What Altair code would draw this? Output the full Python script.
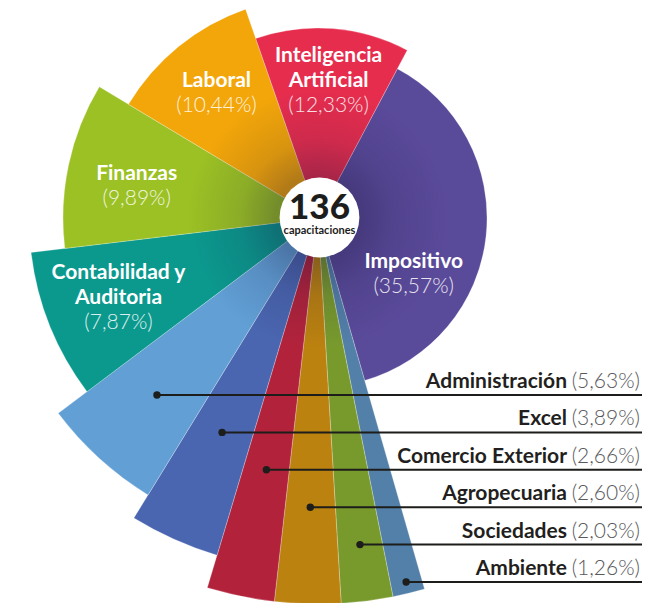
import math
import altair as alt
import pandas as pd

# ---------------- data ----------------
categories = ["Impositivo", "Ambiente", "Sociedades", "Agropecuaria", "Comercio Exterior",
              "Excel", "Administración", "Contabilidad y Auditoria", "Finanzas", "Laboral",
              "Inteligencia Artificial"]
shares = [35.57, 1.26, 2.03, 2.60, 2.66, 3.89, 5.63, 7.87, 9.89, 10.44, 12.33]
slice_text = ["Impositivo", "", "", "", "", "", "", "Contabilidad y\nAuditoria", "Finanzas",
              "Laboral", "Inteligencia\nArtificial"]
callout_text = ["", "Ambiente", "Sociedades", "Agropecuaria", "Comercio Exterior", "Excel",
                "Administración", "", "", "", ""]
total_value = "136"
total_caption = "capacitaciones"

# ---------------- styles / layout ----------------
colors = ["#5a4a9a", "#5380a9", "#789a2d", "#bc820f", "#b2233b", "#4a66b0", "#619fd5",
          "#0b998e", "#9bc124", "#f3a609", "#e72d4e"]
W, H = 641, 595
CX, CY = 310, 210
HX, HY, HR = 311.5, 209.5, 45
T0 = math.radians(28)
TOTAL = sum(shares)
rad_domain = [1.26, 2.03, 2.60, 2.66, 3.89, 5.63, 7.87, 9.89, 10.44, 12.33, 35.57]
rad_range = [386, 386, 386, 386, 352, 325, 289, 255, 221, 190, 169]
lab_domain = [7.87, 9.89, 10.44, 12.33, 35.57]
lab_range = [215, 184, 161, 137, 111]
ROW0, GAP = 387, 37.4
FONT = "Lato"
LH = 25
LABEL_FS = 21
CALL_FS = 21


def pct(v):
    return "(" + f"{v:.2f}".replace(".", ",") + "%)"


rows = []
for i, (c, s, st, ct) in enumerate(zip(categories, shares, slice_text, callout_text)):
    lines = st.split("\n") if st else []
    rows.append(dict(category=c, share=s, idx=i, big=bool(st), nlines=len(lines),
                     line1=lines[0] if lines else "", line2=lines[1] if len(lines) > 1 else "",
                     callout=ct, pct=pct(s)))
df = pd.DataFrame(rows)

theta_scale = alt.Scale(domain=[0, TOTAL], range=[T0, T0 + 2 * math.pi])
base = alt.Chart(df)

arcs = base.mark_arc(stroke="white", strokeWidth=0.5, strokeOpacity=0.5).encode(
    theta=alt.Theta("share:Q", stack=True, scale=theta_scale),
    radius=alt.Radius("share:Q", scale=alt.Scale(type="linear", domain=rad_domain,
                                                 range=rad_range, nice=False, zero=False)),
    radius2=alt.value(0),
    color=alt.Color("category:N", scale=alt.Scale(domain=categories, range=colors), legend=None),
    order=alt.Order("idx:Q"),
    x=alt.value(CX), y=alt.value(CY),
)

shade = alt.Chart(pd.DataFrame({"k": [1]})).mark_arc(
    radius=130, theta=0, theta2=2 * math.pi,
    fill={"gradient": "radial", "x1": 0.5, "y1": 0.5, "x2": 0.5, "y2": 0.5, "r1": 0, "r2": 0.5,
          "stops": [{"offset": 0.33, "color": "rgba(25,20,60,0.30)"},
                    {"offset": 0.6, "color": "rgba(25,20,60,0.12)"},
                    {"offset": 1, "color": "rgba(25,20,60,0)"}]},
).encode(x=alt.value(CX), y=alt.value(CY))

cum = base.transform_window(cum="sum(share)", sort=[alt.SortField("idx", order="ascending")],
                            frame=[None, 0])

lab = cum.transform_filter("datum.big").transform_calculate(
    lt="datum.cum - datum.share * (datum.category === 'Impositivo' ? 0.32 : "
       "(datum.category === 'Finanzas' ? 0.56 : 0.5))"
)
lab_enc = dict(
    theta=alt.Theta("lt:Q", stack=None, scale=theta_scale),
    radius=alt.Radius("share:Q", scale=alt.Scale(type="linear", domain=lab_domain,
                                                 range=lab_range, nice=False, zero=False)),
    x=alt.value(CX), y=alt.value(CY),
)


def lab_layer(n, field, dy, bold):
    return lab.transform_filter(f"datum.nlines == {n}").mark_text(
        font=FONT, fontSize=LABEL_FS, fontWeight="bold" if bold else 300, color="white",
        opacity=1 if bold else 0.85, baseline="middle", align="center", dy=dy
    ).encode(text=f"{field}:N", **lab_enc)


lab_layers = [
    lab_layer(2, "line1", -LH, True), lab_layer(2, "line2", 0, True), lab_layer(2, "pct", LH, False),
    lab_layer(1, "line1", -LH / 2, True), lab_layer(1, "pct", LH / 2, False),
]

small = cum.transform_filter("!datum.big").transform_window(
    row="row_number()", sort=[alt.SortField("idx", order="descending")]
).transform_calculate(
    rowY=f"{ROW0} + (datum.row - 1) * {GAP}",
    tm=f"{T0} + (datum.cum - datum.share / 2) / {TOTAL} * 2 * PI",
).transform_calculate(
    dotX=f"{CX} + ({CY} - datum.rowY) * tan(datum.tm)"
)
xe = alt.X("dotX:Q", scale=None, axis=None)
ye = alt.Y("rowY:Q", scale=None, axis=None)
rules = small.mark_rule(color="#1d1d1b", strokeWidth=2).encode(x=xe, x2=alt.value(634), y=ye)
dots = small.mark_circle(size=55, color="#1d1d1b", opacity=1).encode(x=xe, y=ye)
c_names = small.mark_text(font=FONT, fontSize=CALL_FS, fontWeight="bold", color="#231f20",
                          align="right", baseline="alphabetic", dy=-7).encode(
    x=alt.value(559), y=ye, text="callout:N")
c_pcts = small.mark_text(font=FONT, fontSize=CALL_FS, fontWeight=300, color="#58595b",
                         align="right", baseline="alphabetic", dy=-7).encode(
    x=alt.value(632), y=ye, text="pct:N")

one = alt.Chart(pd.DataFrame({"t": [total_value], "c": [total_caption]}))
hub = one.mark_circle(size=math.pi * HR * HR, color="white", opacity=1).encode(
    x=alt.value(HX), y=alt.value(HY))
hub_num = one.mark_text(font=FONT, fontSize=35, fontWeight=900, color="#1d1d1b",
                        baseline="middle", align="center").encode(
    x=alt.value(HX), y=alt.value(HY - 10), text="t:N")
hub_cap = one.mark_text(font=FONT, fontSize=11, fontWeight="bold", color="#1d1d1b",
                        baseline="middle", align="center").encode(
    x=alt.value(HX), y=alt.value(HY + 13), text="c:N")

chart = alt.layer(arcs, shade, *lab_layers, rules, dots, c_names, c_pcts, hub, hub_num, hub_cap
                  ).resolve_scale(theta="independent", radius="independent").properties(
    width=W, height=H, padding=0, autosize=alt.AutoSizeParams(type="none"),
    background="white",
).configure_view(stroke=None)

chart.save("out.html", embed_options={"renderer": "svg", "actions": False})
